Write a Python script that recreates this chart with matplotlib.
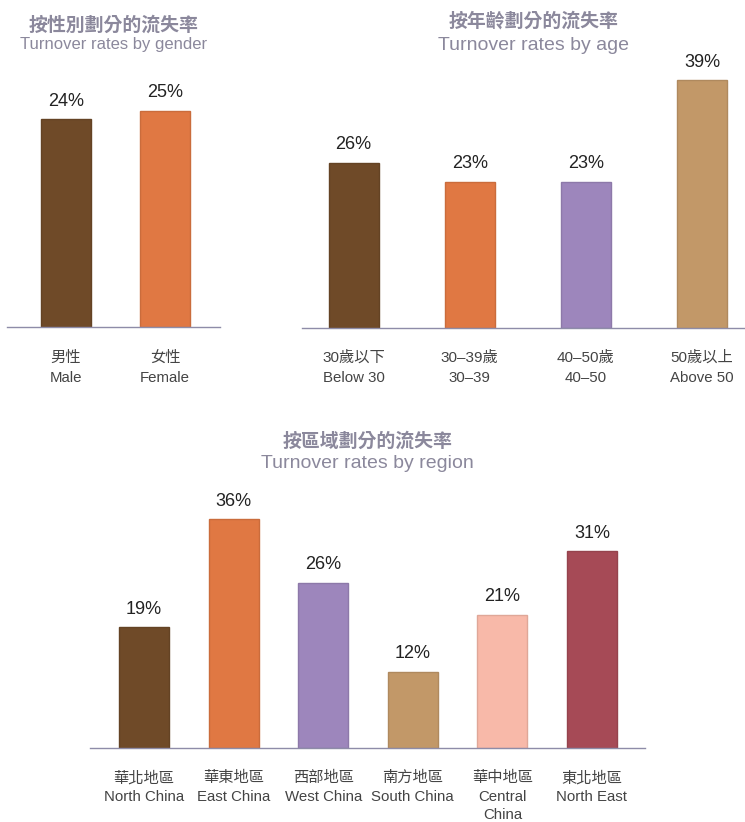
import matplotlib
matplotlib.use("Agg")
import matplotlib.pyplot as plt
from matplotlib.colors import to_rgb

# ---- data ----
gender_zh = ["男性", "女性"]
gender_en = ["Male", "Female"]
gender_rates = [24, 25]

age_zh = ["30歲以下", "30–39歲", "40–50歲", "50歲以上"]
age_en = ["Below 30", "30–39", "40–50", "Above 50"]
age_rates = [26, 23, 23, 39]

region_zh = ["華北地區", "華東地區", "西部地區", "南方地區", "華中地區", "東北地區"]
region_en = ["North China", "East China", "West China", "South China", "Central\nChina", "North East"]
region_rates = [19, 36, 26, 12, 21, 31]

# ---- styling ----
BROWN = "#6F4A28"
ORANGE = "#E07843"
PURPLE = "#9D86BC"
TAN = "#C29868"
PINK = "#F8B9A9"
RED = "#A64A56"
gender_colors = [BROWN, ORANGE]
age_colors = [BROWN, ORANGE, PURPLE, TAN]
region_colors = [BROWN, ORANGE, PURPLE, TAN, PINK, RED]

TITLE_C = "#8B889C"
LABEL_C = "#444444"
VALUE_C = "#222222"
AXIS_C = "#8E8CA8"
FONTS = ["Liberation Sans", "Noto Sans CJK TC", "DejaVu Sans"]
CJK = ["Noto Sans CJK TC", "DejaVu Sans"]

W, H = 745, 822
fig = plt.figure(figsize=(W / 100, H / 100), dpi=100)
fig.patch.set_facecolor("white")


def darker(c, f=0.9):
    r, g, b = to_rgb(c)
    return (r * f, g * f, b * f)


def panel(left, right, top, base, first_c, step, px_per_unit, width_px):
    ax = fig.add_axes([left / W, 1 - base / H, (right - left) / W, (base - top) / H])
    ax.set_xlim((left - first_c) / step, (right - first_c) / step)
    ax.set_ylim(0, (base - top) / px_per_unit)
    for s in ("top", "left", "right"):
        ax.spines[s].set_visible(False)
    ax.spines["bottom"].set_color(AXIS_C)
    ax.spines["bottom"].set_linewidth(1.0)
    ax.spines["bottom"].set_zorder(3)
    ax.set_xticks([])
    ax.set_yticks([])
    ax.patch.set_alpha(0)
    return ax, width_px / step


def draw(ax, bw, values, colors, zh, en, zh_off, en_off, en_step, val_size=13):
    xs = list(range(len(values)))
    ax.bar(xs, values, width=bw, color=colors,
           edgecolor=[darker(c) for c in colors], linewidth=1.0, zorder=2)
    for x, v in zip(xs, values):
        ax.annotate(f"{v}%", xy=(x, v), xytext=(0, 18), textcoords="offset pixels",
                    ha="center", va="center", fontsize=val_size, color=VALUE_C,
                    family=FONTS, annotation_clip=False)
    for x, z, e in zip(xs, zh, en):
        ax.annotate(z, xy=(x, 0), xytext=(0, -zh_off), textcoords="offset pixels",
                    ha="center", va="center", fontsize=11, color=LABEL_C,
                    family=FONTS, fontweight="light", annotation_clip=False)
        for k, line in enumerate(e.split("\n")):
            ax.annotate(line, xy=(x, 0), xytext=(0, -(en_off + en_step * k)),
                        textcoords="offset pixels", ha="center", va="center",
                        fontsize=10.8, color=LABEL_C, family=FONTS,
                        annotation_clip=False)


def title(cx, y_zh, y_en, zh, en, en_size):
    fig.text(cx / W, 1 - y_zh / H, zh, ha="center", va="center", fontsize=13.6,
             fontweight="bold", color=TITLE_C, family=CJK)
    fig.text(cx / W, 1 - y_en / H, en, ha="center", va="center", fontsize=en_size,
             color=TITLE_C, family=FONTS)


# gender
ax1, bw1 = panel(7, 220, 60, 327, 66, 99, 8.65, 50)
draw(ax1, bw1, gender_rates, gender_colors, gender_zh, gender_en, 31, 51, 18)
title(113.5, 25, 45, "按性別劃分的流失率", "Turnover rates by gender", 12)

# age
ax2, bw2 = panel(302, 745, 40, 328, 353.5, 116.2, 6.35, 50)
draw(ax2, bw2, age_rates, age_colors, age_zh, age_en, 30, 50, 18)
title(533.5, 21, 46, "按年齡劃分的流失率", "Turnover rates by age", 14)

# region
ax3, bw3 = panel(90, 645, 480, 748, 144, 89.6, 6.35, 50)
draw(ax3, bw3, region_rates, region_colors, region_zh, region_en, 30, 49, 18)
title(367.5, 441, 463, "按區域劃分的流失率", "Turnover rates by region", 14)

fig.savefig("out.png", dpi=100, facecolor="white")
